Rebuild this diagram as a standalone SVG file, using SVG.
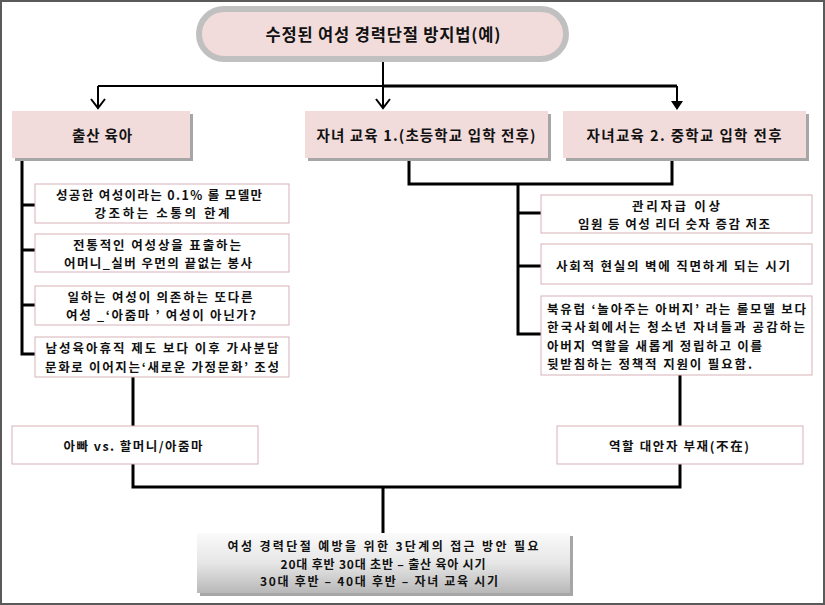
<svg xmlns="http://www.w3.org/2000/svg" width="825" height="605" viewBox="0 0 825 605">
<defs>
<style>
.t{font-family:"Noto Sans CJK KR","Malgun Gothic",sans-serif;fill:#111;text-anchor:middle;dominant-baseline:central;font-weight:bold}
.s{font-size:12.5px}
.st{text-anchor:start}
.pink{fill:#F2DCDB}
.shadow{fill:#A6A6A6}
.wb{fill:#fff;stroke:#D5B1B8;stroke-width:1}
.ln{fill:none;stroke:#000;stroke-width:3}
.ln2{fill:none;stroke:#000;stroke-width:2}
</style>
<linearGradient id="g" x1="0" y1="0" x2="0" y2="1">
<stop offset="0" stop-color="#FAFAFA"/>
<stop offset="0.5" stop-color="#E6E6E6"/>
<stop offset="1" stop-color="#B8B8B8"/>
</linearGradient>
</defs>
<rect x="0" y="0" width="825" height="605" fill="#fff"/>
<rect x="1" y="1" width="823" height="603" fill="none" stroke="#5A5A5A" stroke-width="2"/>

<g id="connectors">
<path class="ln2" d="M383 60 V86 M98 86 H383"/>
<path class="ln" d="M383 86 H677"/>
<path class="ln2" d="M98 86 V107 M383 86 V107 M677 86 V104"/>
<path class="ln2" d="M91 99 L98 108 L105 99 M376 99 L383 108 L390 99"/>
<path d="M671 101 L683 101 L677 110 Z" fill="#000"/>
<path class="ln" d="M22 160 V354 H35 M22 205 H35 M22 250 H35 M22 305 H35"/>
<path class="ln" d="M409 160 V184 H672 V160 M518 184 V334 H541 M518 213 H541 M518 266 H541"/>
<path class="ln" d="M133 377 V426 M680 375 V426"/>
<path class="ln" d="M133 464 V487 H680 V464 M383 487 V533"/>
</g>

<g id="n0">
<rect x="199" y="9" width="367" height="50" rx="25" fill="#F2DCDB" stroke="#C0C0C0" stroke-width="6"/>
<text class="t" x="383" y="34" font-size="16.5" textLength="235" lengthAdjust="spacing">수정된 여성 경력단절 방지법(예)</text>
</g>

<g id="n1">
<rect class="shadow" x="15" y="114" width="178" height="47"/>
<rect class="pink" x="12" y="111" width="178" height="47"/>
<text class="t" x="102" y="134" font-size="14.5" textLength="60" lengthAdjust="spacing">출산 육아</text>
</g>
<g id="n2">
<rect class="shadow" x="308" y="114" width="243" height="47"/>
<rect class="pink" x="305" y="111" width="243" height="47"/>
<text class="t" x="426" y="134" font-size="14.5" textLength="219" lengthAdjust="spacing">자녀 교육 1.(초등학교 입학 전후)</text>
</g>
<g id="n3">
<rect class="shadow" x="566" y="114" width="243" height="47"/>
<rect class="pink" x="563" y="111" width="243" height="47"/>
<text class="t" x="684" y="134" font-size="14.5" textLength="195" lengthAdjust="spacing">자녀교육 2. 중학교 입학 전후</text>
</g>

<g id="l1">
<rect class="wb" x="35" y="184" width="254" height="39"/>
<text class="t s" x="159" y="194.5" textLength="206" lengthAdjust="spacing">성공한 여성이라는 0.1% 롤 모델만</text>
<text class="t s" x="162" y="212.8" textLength="135" lengthAdjust="spacing">강조하는 소통의 한계</text>
</g>
<g id="l2">
<rect class="wb" x="35" y="234" width="254" height="38"/>
<text class="t s" x="157" y="244" textLength="168" lengthAdjust="spacing">전통적인 여성상을 표출하는</text>
<text class="t s" x="158" y="262.3" textLength="188" lengthAdjust="spacing">어머니_실버 우먼의 끝없는 봉사</text>
</g>
<g id="l3">
<rect class="wb" x="35" y="286" width="254" height="39"/>
<text class="t s" x="160" y="296.5" textLength="185" lengthAdjust="spacing">일하는 여성이 의존하는 또다른</text>
<text class="t s" x="161" y="314.8" textLength="190" lengthAdjust="spacing">여성 _‘아줌마 ’  여성이 아닌가?</text>
</g>
<g id="l4">
<rect class="wb" x="35" y="337" width="254" height="40"/>
<text class="t s" x="162" y="347.8" textLength="233" lengthAdjust="spacing">남성육아휴직 제도 보다 이후 가사분담</text>
<text class="t s" x="162" y="366.1" textLength="234" lengthAdjust="spacing">문화로 이어지는‘새로운 가정문화’ 조성</text>
</g>

<g id="r1">
<rect class="wb" x="541" y="195" width="271" height="38"/>
<text class="t s" x="676" y="205" textLength="88" lengthAdjust="spacing">관리자급 이상</text>
<text class="t s" x="674" y="223.3" textLength="192" lengthAdjust="spacing">임원 등 여성 리더 숫자 증감 저조</text>
</g>
<g id="r2">
<rect class="wb" x="541" y="244" width="271" height="40"/>
<text class="t s" x="673" y="265" textLength="234" lengthAdjust="spacing">사회적 현실의 벽에 직면하게 되는 시기</text>
</g>
<g id="r3">
<rect class="wb" x="541" y="296" width="271" height="79"/>
<text class="t s st" x="547" y="308.5" textLength="259" lengthAdjust="spacing">북유럽 ‘놀아주는 아버지’ 라는 롤모델 보다</text>
<text class="t s st" x="547" y="326.8" textLength="258" lengthAdjust="spacing">한국사회에서는 청소년 자녀들과 공감하는</text>
<text class="t s st" x="547" y="345.1" textLength="215" lengthAdjust="spacing">아버지 역할을 새롭게 정립하고 이를</text>
<text class="t s st" x="547" y="363.4" textLength="205" lengthAdjust="spacing">뒷받침하는 정책적 지원이 필요함.</text>
</g>

<g id="m1">
<rect class="wb" x="12" y="426" width="246" height="38"/>
<text class="t" x="133" y="445" font-size="12.5" textLength="139" lengthAdjust="spacing">아빠 vs. 할머니/아줌마</text>
</g>
<g id="m2">
<rect class="wb" x="557" y="426" width="246" height="38"/>
<text class="t" x="679" y="445" font-size="12.5" textLength="140" lengthAdjust="spacing">역할 대안자 부재(不在)</text>
</g>

<g id="bottom">
<rect class="shadow" x="200" y="536" width="373" height="60"/>
<rect x="197" y="533" width="373" height="60" fill="url(#g)"/>
<text class="t" x="383" y="545.5" font-size="12" textLength="311" lengthAdjust="spacing">여성  경력단절 예방을 위한 3단계의 접근 방안 필요</text>
<text class="t" x="383" y="563" font-size="12" textLength="205" lengthAdjust="spacing">20대 후반 30대 초반 – 출산 육아 시기</text>
<text class="t" x="379" y="580.5" font-size="12" textLength="238" lengthAdjust="spacing">30대 후반 – 40대 후반 – 자녀 교육 시기</text>
</g>
</svg>
